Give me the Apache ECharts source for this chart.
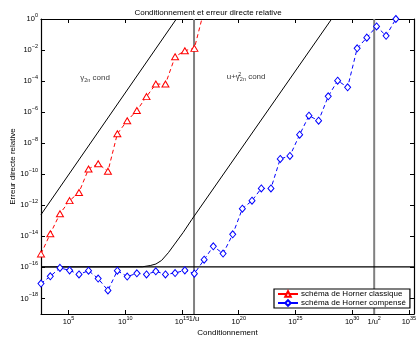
<!DOCTYPE html>
<html>
<head>
<meta charset="utf-8">
<script src="https://cdn.jsdelivr.net/npm/echarts@6/dist/echarts.min.js"></script>
<style>
  html, body { margin: 0; padding: 0; background: #fff; }
  #chart { width: 416px; height: 338px; }
</style>
</head>
<body>
<div id="chart"></div>
<script>
// everything is log10 : x = log10(cond), y = log10(relative error)
const condExp = [2.57, 3.39, 4.24, 5.09, 5.92, 6.76, 7.61, 8.47, 9.30, 10.17,
  11.02, 11.87, 12.69, 13.54, 14.39, 15.25, 16.09, 16.95, 17.76, 18.62,
  19.47, 20.32, 21.17, 21.99, 22.84, 23.66, 24.51, 25.37, 26.19, 27.04,
  27.89, 28.72, 29.60, 30.44, 31.29, 32.15, 32.99, 33.85]
const classicErr = [-15.13, -13.83, -12.54, -11.70, -11.17, -9.66, -9.32, -9.81, -7.39, -6.55,
  -5.89, -5.00, -4.19, -4.19, -2.43, -2.04, -1.89, 0.58]
const compErr = [-17.04, -16.57, -16.03, -16.19, -16.45, -16.21, -16.72, -17.48, -16.21, -16.59,
  -16.38, -16.45, -16.25, -16.45, -16.36, -16.19, -16.40, -15.50, -14.64, -15.11,
  -13.87, -12.22, -11.70, -10.91, -10.91, -9.01, -8.82, -7.45, -6.23, -6.55,
  -4.98, -3.97, -4.40, -1.89, -1.20, -0.48, -1.08, 0.00]

// a priori bounds
const gammaX = [2.57, 14.5]
const gammaY = [-12.6, 0]
const boundX = [2.57, 11.5, 12.2, 12.7, 13.2, 13.8, 14.3, 15.1, 15.86, 28.19]
const boundY = [-15.97, -15.96, -15.88, -15.78, -15.55, -15.05, -14.55, -13.75, -12.92, 0]

const uExp = -15.97
const invU = 16.06
const invU2 = 31.94
const xRange = [2.57, 35.45]
const yRange = [-19, 0]
const xTicks = [5, 10, 15, 20, 25, 30, 35]
const yTicks = [-18, -16, -14, -12, -10, -8, -6, -4, -2, 0]

const names = ['schéma de Horner classique', 'schéma de Horner compensé']

const FONT = 'Liberation Sans, Arial, sans-serif'
const zip = (xs, ys) => ys.map((y, i) => [xs[i], y])

const pow10 = (v) => {
  if (Math.abs(v - invU) < 0.01) return '{b|1/u}'
  if (Math.abs(v - invU2) < 0.01) return '{b|1/u}{e|2}'
  const n = Math.round(v)
  return '{b|10}{e|' + (n < 0 ? '\u2212' + (-n) : n) + '}'
}
const rich = {
  b: { fontSize: 7.5, fontFamily: FONT, color: '#000' },
  e: { fontSize: 5.5, fontFamily: FONT, color: '#000', padding: [0, 0, 7, 0] },
}

const axisCommon = {
  type: 'value',
  axisLine: { show: true, onZero: false, lineStyle: { color: '#000', width: 1.2 } },
  axisTick: { show: true, inside: true, length: 4, lineStyle: { color: '#000' } },
  splitLine: { show: false },
}

const chart = echarts.init(document.getElementById('chart'), null, { renderer: 'canvas' })

chart.setOption({
  animation: false,
  backgroundColor: '#fff',
  title: {
    text: 'Conditionnement et erreur directe relative',
    left: 'center',
    top: 4,
    textStyle: { fontSize: 8, fontWeight: 'normal', color: '#000', fontFamily: FONT },
  },
  grid: { left: 41, right: 2, top: 19, bottom: 24, outerBoundsMode: 'none' },
  legend: {
    data: names,
    orient: 'vertical',
    left: 274,
    top: 289,
    padding: [1, 4, 1, 3],
    itemGap: 1,
    itemWidth: 20,
    itemHeight: 7,
    backgroundColor: '#fff',
    borderColor: '#000',
    borderWidth: 1.2,
    borderRadius: 0,
    lineStyle: { type: 'solid' },
    textStyle: { fontSize: 8, color: '#000', fontFamily: FONT, padding: [0, 0, 0, -2] },
  },
  xAxis: [
    {
      ...axisCommon,
      position: 'bottom',
      min: xRange[0],
      max: xRange[1],
      name: 'Conditionnement',
      nameLocation: 'middle',
      nameGap: 15,
      nameMoveOverlap: false,
      nameTextStyle: { fontSize: 8, color: '#000', fontFamily: FONT },
      axisTick: { ...axisCommon.axisTick, customValues: xTicks },
      axisLabel: {
        customValues: [5, 10, 15, invU, 20, 25, 30, invU2, 35],
        formatter: pow10,
        rich,
        margin: 1,
        hideOverlap: false,
      },
    },
    {
      ...axisCommon,
      position: 'top',
      min: xRange[0],
      max: xRange[1],
      axisTick: { ...axisCommon.axisTick, customValues: xTicks },
      axisLabel: { show: false },
    },
  ],
  yAxis: [
    {
      ...axisCommon,
      position: 'left',
      min: yRange[0],
      max: yRange[1],
      name: 'Erreur directe relative',
      nameLocation: 'middle',
      nameGap: 24,
      nameMoveOverlap: false,
      nameTextStyle: { fontSize: 8, color: '#000', fontFamily: FONT },
      axisTick: { ...axisCommon.axisTick, customValues: yTicks },
      axisLabel: { customValues: yTicks, formatter: pow10, rich, margin: 3 },
    },
    {
      ...axisCommon,
      position: 'right',
      min: yRange[0],
      max: yRange[1],
      axisTick: { ...axisCommon.axisTick, customValues: yTicks },
      axisLabel: { show: false },
    },
  ],
  series: [
    {
      name: 'invU',
      type: 'line',
      data: [[invU, yRange[0]], [invU, yRange[1]]],
      showSymbol: false,
      lineStyle: { color: '#808080', width: 2 },
      silent: true,
    },
    {
      name: 'invU2',
      type: 'line',
      data: [[invU2, yRange[0]], [invU2, yRange[1]]],
      showSymbol: false,
      lineStyle: { color: '#808080', width: 2 },
      silent: true,
    },
    {
      name: 'u',
      type: 'line',
      data: [[xRange[0], uExp], [xRange[1], uExp]],
      showSymbol: false,
      lineStyle: { color: '#000', width: 1.2 },
      silent: true,
    },
    {
      name: 'gamma cond',
      type: 'line',
      data: zip(gammaX, gammaY),
      showSymbol: false,
      lineStyle: { color: '#000', width: 1 },
      silent: true,
    },
    {
      name: 'u + gamma^2 cond',
      type: 'line',
      data: zip(boundX, boundY),
      showSymbol: false,
      lineStyle: { color: '#000', width: 1 },
      silent: true,
    },
    {
      name: names[0],
      type: 'line',
      data: zip(condExp, classicErr),
      symbol: 'triangle',
      symbolSize: [7, 6],
      showAllSymbol: true,
      clip: true,
      lineStyle: { color: '#ff0000', width: 1, type: [4, 3] },
      itemStyle: { color: '#fff', borderColor: '#ff0000', borderWidth: 1 },
      z: 5,
    },
    {
      name: names[1],
      type: 'line',
      data: zip(condExp, compErr),
      symbol: 'diamond',
      symbolSize: [6, 7],
      showAllSymbol: true,
      clip: true,
      lineStyle: { color: '#0000ff', width: 1, type: [4, 3] },
      itemStyle: { color: '#fff', borderColor: '#0000ff', borderWidth: 1 },
      z: 5,
    },
    {
      name: 'notes',
      type: 'scatter',
      symbolSize: 0,
      silent: true,
      data: [
        {
          value: [6.03, -3.78],
          label: { formatter: '{t|\u03b3}{s|2n}{t| cond}' },
        },
        {
          value: [18.94, -3.72],
          label: { formatter: '{t|u+\u03b3}{s|2n}{t| cond}' },
        },
        {
          value: [19.95, -3.55],
          label: { formatter: '{p|2}' },
        },
      ],
      label: {
        show: true,
        position: 'right',
        distance: 0,
        rich: {
          t: { fontSize: 8, fontFamily: FONT, color: '#000' },
          s: { fontSize: 5.5, fontFamily: FONT, color: '#000', padding: [6, 0, 0, 0] },
          p: { fontSize: 5.5, fontFamily: FONT, color: '#000' },
        },
      },
    },
  ],
})
</script>
</body>
</html>
